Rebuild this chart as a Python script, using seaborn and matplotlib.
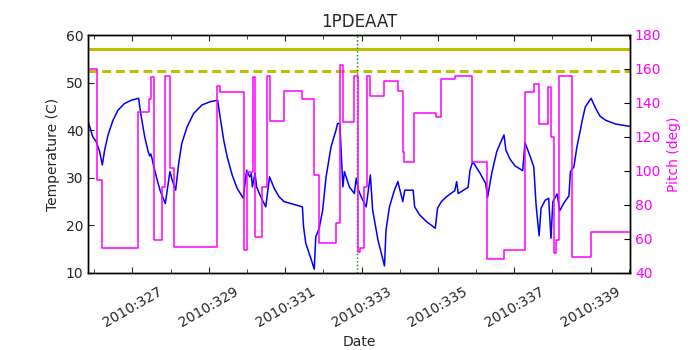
import numpy as np
import pandas as pd
import seaborn as sns
import matplotlib.pyplot as plt
from matplotlib.ticker import FixedLocator, MultipleLocator

sns.set_style("ticks")
plt.rcParams['font.family'] = ['DejaVu Sans']
plt.rcParams['font.size'] = 10

# temperature (C) vs day of year 2010
temp_day = [325.84, 325.96, 326.05, 326.14, 326.21, 326.27, 326.36, 326.49, 326.62, 326.79,
            326.97, 327.16, 327.23, 327.32, 327.41, 327.45, 327.48, 327.51, 327.58, 327.72,
            327.86, 327.98, 328.04, 328.13, 328.21, 328.29, 328.43, 328.60, 328.82, 329.04,
            329.23, 329.30, 329.39, 329.48, 329.61, 329.74, 329.90, 329.99, 330.07, 330.11,
            330.14, 330.21, 330.25, 330.36, 330.49, 330.59, 330.71, 330.84, 330.97, 331.23,
            331.45, 331.48, 331.54, 331.67, 331.76, 331.80, 331.89, 331.98, 332.07, 332.20,
            332.33, 332.37, 332.43, 332.51, 332.55, 332.68, 332.81, 332.86, 332.92, 332.99,
            333.12, 333.23, 333.29, 333.43, 333.60, 333.64, 333.73, 333.86, 333.95, 334.08,
            334.13, 334.35, 334.39, 334.52, 334.70, 334.93, 334.99, 335.09, 335.22, 335.44,
            335.49, 335.53, 335.79, 335.84, 335.91, 336.10, 336.25, 336.30, 336.41, 336.54,
            336.65, 336.73, 336.78, 336.89, 337.02, 337.22, 337.28, 337.42, 337.51, 337.57,
            337.65, 337.70, 337.81, 337.90, 337.96, 338.01, 338.12, 338.19, 338.29, 338.43,
            338.47, 338.56, 338.64, 338.73, 338.78, 338.86, 339.01, 339.13, 339.25, 339.39,
            339.65, 340.03]
temp_c = [41.8, 38.6, 37.6, 35.5, 32.7, 35.8, 39.0, 42.1, 44.2, 45.6,
          46.3, 46.7, 42.8, 38.6, 35.5, 34.6, 35.0, 34.1, 31.6, 27.4,
          24.6, 31.3, 29.5, 27.4, 33.0, 37.2, 40.7, 43.5, 45.3, 46.0,
          46.3, 42.5, 37.9, 34.4, 30.6, 27.8, 25.7, 31.6, 30.2, 30.9,
          28.1, 31.0, 28.1, 26.0, 23.9, 30.2, 27.8, 26.0, 25.0, 24.4,
          23.9, 19.7, 16.2, 13.1, 10.8, 17.6, 19.4, 23.2, 30.2, 36.5,
          40.0, 41.4, 41.4, 28.1, 31.3, 28.1, 26.7, 29.9, 27.4, 26.0,
          23.9, 30.6, 23.2, 16.9, 11.5, 19.0, 23.9, 27.4, 29.2, 25.0,
          27.4, 27.4, 23.9, 22.2, 20.8, 19.4, 23.6, 25.0, 26.0, 27.3,
          29.2, 26.7, 28.0, 31.6, 33.4, 31.0, 28.8, 25.9, 31.0, 35.5,
          37.6, 39.0, 35.8, 33.9, 32.5, 31.5, 37.4, 34.4, 32.3, 24.3,
          17.8, 23.6, 25.3, 25.7, 17.3, 25.0, 26.6, 23.1, 24.6, 26.2,
          31.3, 32.3, 36.5, 40.0, 42.1, 44.9, 46.7, 44.6, 42.9, 42.1,
          41.3, 40.8]

# pitch (deg), step changes
pitch_day = [325.84, 326.06, 326.19, 327.15, 327.42, 327.49, 327.57, 327.77, 327.84, 327.99,
             328.10, 329.22, 329.30, 329.92, 329.99, 330.16, 330.22, 330.40, 330.51, 330.60,
             330.97, 331.45, 331.76, 331.89, 332.33, 332.44, 332.51, 332.79, 332.90, 332.97,
             333.07, 333.14, 333.23, 333.60, 333.95, 334.08, 334.11, 334.37, 334.94, 335.07,
             335.44, 335.90, 336.28, 336.72, 337.27, 337.51, 337.64, 337.89, 337.97, 338.03,
             338.08, 338.18, 338.51, 339.01, 340.03]
pitch_deg = [160.0, 95.0, 54.5, 135.0, 142.4, 155.5, 59.4, 90.8, 156.0, 101.6,
             55.5, 150.2, 146.7, 53.5, 99.6, 155.5, 61.4, 90.8, 156.0, 129.6,
             147.0, 142.4, 97.6, 57.5, 69.6, 162.4, 129.0, 156.0, 52.5, 54.5,
             90.8, 156.0, 144.3, 153.1, 147.3, 111.4, 105.5, 134.3, 131.6, 153.9,
             155.9, 105.5, 48.0, 53.5, 146.7, 151.2, 127.4, 149.6, 120.2, 51.6,
             59.4, 155.9, 49.6, 64.1, 64.1]

planning_limit = 57.0
caution_limit = 52.5
marker_day = 332.87

label_days = [327, 329, 331, 333, 335, 337, 339]
label_text = ['2010:%d' % d for d in label_days]
all_days = list(range(326, 341))

fig = plt.figure(figsize=(7, 3.5), dpi=100)
ax = fig.add_axes([0.126, 0.22, 0.774, 0.68])

sns.lineplot(x=temp_day, y=temp_c, ax=ax, color='b', lw=1.1, estimator=None, sort=False)
ax.axhline(planning_limit, color=(0.75, 0.75, 0), lw=2.2)
ax.axhline(caution_limit, color=(0.75, 0.75, 0), lw=2.2, ls=(0, (2.9, 1.6)))
ax.axvline(marker_day, color='g', lw=1, ls=':')

ax.set_xlim(325.84, 340.03)
ax.set_ylim(10, 60)
ax.set_xlabel('Date')
ax.set_ylabel('Temperature (C)')
ax.set_title('1PDEAAT', fontsize=12)
ax.xaxis.set_major_locator(FixedLocator(label_days))
ax.set_xticklabels(label_text, rotation=30, ha='center')
ax.xaxis.set_minor_locator(FixedLocator(all_days))
ax.yaxis.set_major_locator(MultipleLocator(10))
ax.tick_params(axis='x', which='both', direction='in', top=True, pad=8)
ax.tick_params(axis='x', which='major', length=4)
ax.tick_params(axis='x', which='minor', length=3)
ax.tick_params(axis='y', direction='in', length=4)

ax2 = ax.twinx()
sns.lineplot(x=pitch_day, y=pitch_deg, ax=ax2, color='magenta', lw=1.1,
             drawstyle='steps-post', estimator=None, sort=False)
ax2.set_ylim(40, 180)
ax2.set_xlim(325.84, 340.03)
ax2.yaxis.set_major_locator(MultipleLocator(20))
ax2.set_ylabel('Pitch (deg)', color='magenta')
ax2.tick_params(axis='y', direction='in', length=4, colors='black', labelcolor='magenta')

for a in (ax, ax2):
    for s in a.spines.values():
        s.set_linewidth(1.0)
        s.set_color('black')

fig.savefig('out.png', dpi=100)
